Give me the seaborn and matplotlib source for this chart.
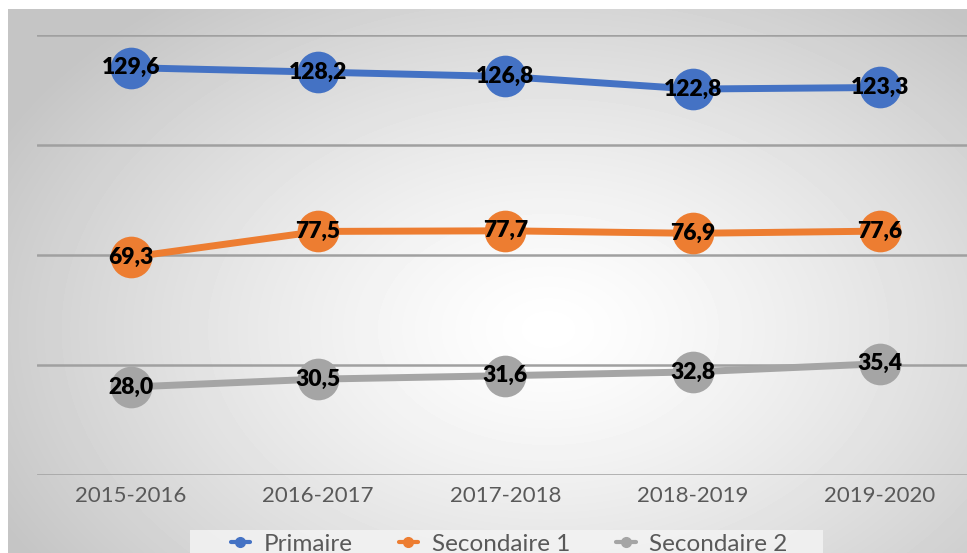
import numpy as np
import pandas as pd
import matplotlib
matplotlib.use("Agg")
import matplotlib.pyplot as plt
from matplotlib.lines import Line2D
from matplotlib.patches import Rectangle
import seaborn as sns

# Enrolment series per school year
years = ["2015-2016", "2016-2017", "2017-2018", "2018-2019", "2019-2020"]
primaire = [129.6, 128.2, 126.8, 122.8, 123.3]
secondaire1 = [69.3, 77.5, 77.7, 76.9, 77.6]
secondaire2 = [28.0, 30.5, 31.6, 32.8, 35.4]
series_names = ["Primaire", "Secondaire 1", "Secondaire 2"]
colors = ["#4472C4", "#ED7D31", "#A5A5A5"]

df = pd.DataFrame({
    "annee": years * 3,
    "x": list(range(len(years))) * 3,
    "valeur": primaire + secondaire1 + secondaire2,
    "serie": [series_names[0]] * 5 + [series_names[1]] * 5 + [series_names[2]] * 5,
})

sns.set_theme(style="white")
FONT = ["Lato", "DejaVu Sans"]
plt.rcParams["font.family"] = FONT

W, H = 967, 553
fig = plt.figure(figsize=(W / 100, H / 100), dpi=100)
fig.patch.set_facecolor("white")

# Soft radial gradient panel behind the chart
bg = fig.add_axes([8 / W, 0, 1 - 8 / W, 1 - 9 / H], zorder=0)
gy, gx = np.mgrid[0:544, 0:959]
cx, cy = 540, 320
r = np.sqrt(((gx - cx) / 620.0) ** 2 + ((gy - cy) / 420.0) ** 2)
shade = 1.0 - 0.23 * np.clip(r, 0, 1) ** 1.3
bg.imshow(shade, cmap="gray", vmin=0, vmax=1, aspect="auto", interpolation="bilinear")
bg.set_axis_off()

ax = fig.add_axes([37 / W, 78 / H, (973.75 - 37) / W, 440 / H], zorder=1)
ax.set_facecolor("none")

sns.lineplot(data=df, x="x", y="valeur", hue="serie", hue_order=series_names,
             palette=colors, marker="o", markersize=30, markeredgewidth=0,
             linewidth=5, sort=False, legend=False, ax=ax, zorder=3)

for _, row in df.iterrows():
    ax.text(row["x"], row["valeur"], f"{row['valeur']:.1f}".replace(".", ","),
            ha="center", va="center", fontsize=16.5, fontweight="heavy",
            color="black", zorder=5, family=FONT)

ax.set_xlim(-0.5, 4.5)
ax.set_ylim(0, 140)
ax.set_yticks([0, 35, 70, 105, 140])
ax.set_yticklabels([])
ax.grid(axis="y", color="#a0a0a0", linewidth=1.8)
ax.grid(axis="x", visible=False)
for s in ax.spines.values():
    s.set_visible(False)
ax.set_xticks(range(len(years)))
ax.set_xticklabels(years, fontsize=16, color="#595959", family=FONT)
ax.tick_params(axis="x", length=0, pad=8)
ax.tick_params(axis="y", length=0)
ax.set_xlabel("")
ax.set_ylabel("")

# Pale band behind the legend entries
fig.add_artist(Rectangle((190 / W, 0), (823 - 190) / W, 23 / H,
                         transform=fig.transFigure, facecolor="#f3f3f3",
                         edgecolor="none", alpha=0.85, zorder=2))

handles = [Line2D([0], [0], color=c, linewidth=3, marker="o", markersize=7)
           for c in colors]
leg = fig.legend(handles, series_names, loc="center", ncol=3,
                 bbox_to_anchor=(509 / W, 9 / H), frameon=False,
                 handlelength=0.8, handletextpad=0.55,
                 columnspacing=1.9, borderpad=0.3,
                 prop={"family": FONT, "size": 17.5})
for t in leg.get_texts():
    t.set_color("#595959")
leg.set_zorder(4)

fig.savefig("out.png", dpi=100)
